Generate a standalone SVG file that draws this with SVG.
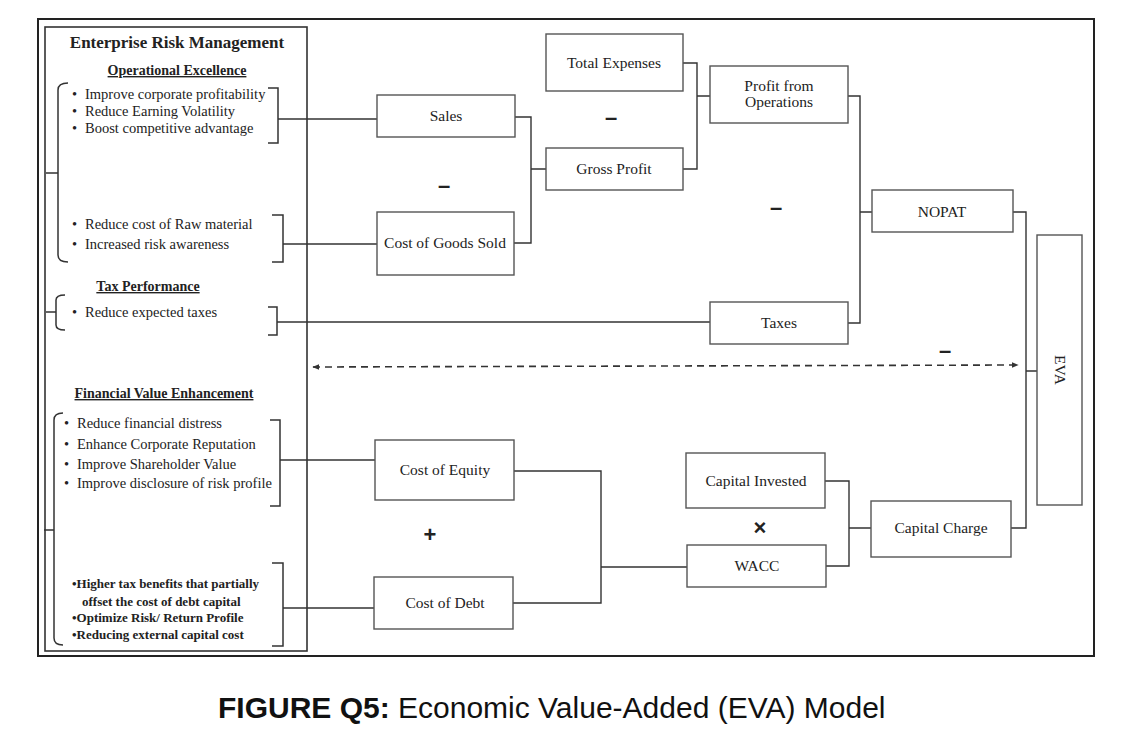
<svg xmlns="http://www.w3.org/2000/svg" width="1121" height="738" viewBox="0 0 1121 738">
<defs>
<style>
.box{fill:#fff;stroke:#555;stroke-width:1.4}
.lbl{font-family:"Liberation Serif","Times New Roman",serif;font-size:15.5px;fill:#222;text-anchor:middle}
.blt{font-family:"Liberation Serif","Times New Roman",serif;font-size:14.5px;fill:#222}
.bltb{font-family:"Liberation Serif","Times New Roman",serif;font-size:13px;font-weight:bold;fill:#222}
.sec{font-family:"Liberation Serif","Times New Roman",serif;font-size:14px;font-weight:bold;fill:#222;text-anchor:middle;text-decoration:underline}
.op{font-family:"Liberation Sans",Arial,sans-serif;font-size:22px;font-weight:bold;fill:#222;text-anchor:middle}
.br{fill:none;stroke:#333;stroke-width:1.5}
.con{fill:none;stroke:#333;stroke-width:1.4}
</style>
<marker id="ah" viewBox="0 0 10 10" refX="9" refY="5" markerWidth="7" markerHeight="7" orient="auto-start-reverse" markerUnits="userSpaceOnUse">
<path d="M0,1 L10,5 L0,9 Z" fill="#333"/>
</marker>
</defs>
<rect width="1121" height="738" fill="#fff"/>
<rect x="38" y="19" width="1056" height="637" fill="none" stroke="#222" stroke-width="2"/>

<g id="erm">
<rect x="45" y="27" width="262" height="624" fill="none" stroke="#333" stroke-width="1.6"/>
<text x="177" y="48" font-family="Liberation Serif,Times New Roman,serif" font-size="17" font-weight="bold" fill="#222" text-anchor="middle">Enterprise Risk Management</text>
<text x="177" y="75" class="sec">Operational Excellence</text>
<path class="br" d="M68,83 Q58,83 58,90 L58,255 Q58,262 68,262 M46,173 L58,173"/>
<path class="br" d="M268,88 L278,88 L278,143 L268,143"/>
<g class="blt">
<text x="72" y="99">•</text><text x="85" y="99">Improve corporate profitability</text>
<text x="72" y="116">•</text><text x="85" y="116">Reduce Earning Volatility</text>
<text x="72" y="133">•</text><text x="85" y="133">Boost competitive advantage</text>
<text x="72" y="229">•</text><text x="85" y="229">Reduce cost of Raw material</text>
<text x="72" y="249">•</text><text x="85" y="249">Increased risk awareness</text>
</g>
<path class="br" d="M272,215 L283,215 L283,262 L272,262"/>
<text x="148" y="291" class="sec">Tax Performance</text>
<path class="br" d="M65,295 Q56,295 56,300 L56,325 Q56,330 65,330 M46,312 L56,312"/>
<text x="72" y="317" class="blt">•</text><text x="85" y="317" class="blt">Reduce expected taxes</text>
<path class="br" d="M268,307 L277,307 L277,335 L268,335"/>
<text x="164" y="398" class="sec">Financial Value Enhancement</text>
<path class="br" d="M63,413 Q54,413 54,420 L54,638 Q54,645 63,645 M44,530 L54,530"/>
<g class="blt">
<text x="64" y="428">•</text><text x="77" y="428">Reduce financial distress</text>
<text x="64" y="449">•</text><text x="77" y="449">Enhance Corporate Reputation</text>
<text x="64" y="469">•</text><text x="77" y="469">Improve Shareholder Value</text>
<text x="64" y="488">•</text><text x="77" y="488">Improve disclosure of risk profile</text>
</g>
<path class="br" d="M270,420 L280,420 L280,506 L270,506"/>
<g class="bltb">
<text x="72" y="588">•Higher tax benefits that partially</text>
<text x="82" y="606">offset the cost of debt capital</text>
<text x="72" y="622">•Optimize Risk/ Return Profile</text>
<text x="72" y="639">•Reducing external capital cost</text>
</g>
<path class="br" d="M272,563 L283,563 L283,646 L272,646"/>
</g>

<g id="connectors">
<path class="con" d="M278,119 L377,119"/>
<path class="con" d="M283,244 L377,244"/>
<path class="con" d="M277,322 L710,322"/>
<path class="con" d="M280,460 L375,460"/>
<path class="con" d="M283,608 L374,608"/>
<path class="con" d="M515,117 L531,117 L531,243 L514,243 M531,169 L546,169"/>
<path class="con" d="M683,63 L697,63 L697,169 L683,169 M697,96 L710,96"/>
<path class="con" d="M848,96 L860,96 L860,323 L848,323 M860,212 L872,212"/>
<path class="con" d="M1013,212 L1026,212 L1026,528 L1011,528 M1026,371 L1037,371"/>
<path class="con" d="M825,481 L849,481 L849,566 L826,566 M849,528 L871,528"/>
<path class="con" d="M514,471 L601,471 L601,603 L513,603 M601,567 L687,567"/>
<path d="M313,367 L1018,365" fill="none" stroke="#333" stroke-width="1.6" stroke-dasharray="7,5" marker-start="url(#ah)" marker-end="url(#ah)"/>
</g>

<g id="total-expenses"><rect class="box" x="546" y="34" width="137" height="57"/><text class="lbl" x="614" y="68">Total Expenses</text></g>
<g id="sales"><rect class="box" x="377" y="95" width="138" height="42"/><text class="lbl" x="446" y="121">Sales</text></g>
<g id="gross-profit"><rect class="box" x="546" y="148" width="137" height="42"/><text class="lbl" x="614" y="174">Gross Profit</text></g>
<g id="cogs"><rect class="box" x="377" y="212" width="137" height="63"/><text class="lbl" x="445" y="248">Cost of Goods Sold</text></g>
<g id="profit-ops"><rect class="box" x="710" y="66" width="138" height="57"/><text class="lbl" x="779" y="91">Profit from</text><text class="lbl" x="779" y="107">Operations</text></g>
<g id="nopat"><rect class="box" x="872" y="190" width="141" height="42"/><text class="lbl" x="942" y="217">NOPAT</text></g>
<g id="taxes"><rect class="box" x="710" y="302" width="138" height="42"/><text class="lbl" x="779" y="328">Taxes</text></g>
<g id="eva"><rect class="box" x="1037" y="235" width="45" height="270"/><text class="lbl" transform="translate(1055,370) rotate(90)" x="0" y="0">EVA</text></g>
<g id="cost-equity"><rect class="box" x="375" y="440" width="139" height="60"/><text class="lbl" x="445" y="475">Cost of Equity</text></g>
<g id="cost-debt"><rect class="box" x="374" y="577" width="139" height="52"/><text class="lbl" x="445" y="608">Cost of Debt</text></g>
<g id="capital-invested"><rect class="box" x="686" y="453" width="139" height="55"/><text class="lbl" x="756" y="486">Capital Invested</text></g>
<g id="wacc"><rect class="box" x="687" y="545" width="139" height="42"/><text class="lbl" x="757" y="571">WACC</text></g>
<g id="capital-charge"><rect class="box" x="871" y="501" width="140" height="56"/><text class="lbl" x="941" y="533">Capital Charge</text></g>

<g id="operators">
<text class="op" x="444" y="193">–</text>
<text class="op" x="611" y="125">–</text>
<text class="op" x="776" y="215">–</text>
<text class="op" x="945" y="358">–</text>
<text class="op" x="430" y="542">+</text>
<text class="op" x="760" y="535">×</text>
</g>

<text x="218" y="718" font-family="Liberation Sans,Arial,sans-serif" font-size="30" fill="#111"><tspan font-weight="bold">FIGURE Q5:</tspan> Economic Value-Added (EVA) Model</text>
</svg>
